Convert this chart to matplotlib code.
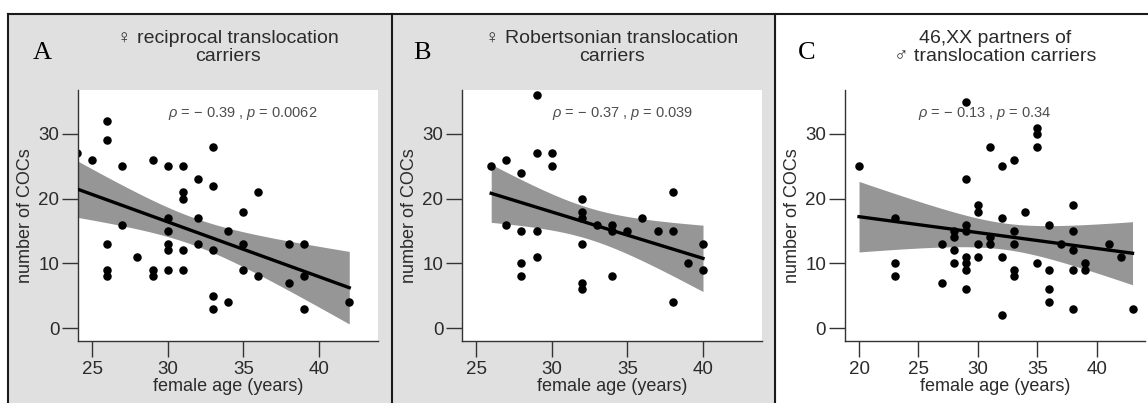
import numpy as np
import matplotlib
matplotlib.use("Agg")
import matplotlib.pyplot as plt
from matplotlib.patches import Rectangle
from matplotlib.lines import Line2D

plt.rcParams['font.family'] = ['Liberation Sans', 'DejaVu Sans']
plt.rcParams['mathtext.fontset'] = 'custom'
plt.rcParams['mathtext.rm'] = 'Liberation Sans'
plt.rcParams['mathtext.it'] = 'Liberation Sans:italic'

# panel A: female reciprocal translocation carriers
age_a = [24, 25, 26, 26, 26, 26, 26, 27, 27, 28, 29, 29, 29,
         30, 30, 30, 30, 30, 30, 31, 31, 31, 31, 31, 32, 32, 32,
         33, 33, 33, 33, 33, 34, 34, 35, 35, 35, 36, 36, 38, 38,
         39, 39, 39, 42]
coc_a = [27, 26, 32, 29, 13, 9, 8, 25, 16, 11, 26, 9, 8,
         25, 17, 15, 13, 12, 9, 25, 21, 20, 12, 9, 23, 17, 13,
         28, 22, 12, 5, 3, 15, 4, 18, 13, 9, 21, 8, 13, 7,
         13, 8, 3, 4]

# panel B: female Robertsonian translocation carriers
age_b = [26, 27, 27, 28, 28, 28, 28, 29, 29, 29, 29, 30, 30,
         32, 32, 32, 32, 32, 32, 33, 34, 34, 34, 35, 36, 37,
         38, 38, 38, 39, 40, 40]
coc_b = [25, 26, 16, 24, 15, 10, 8, 36, 27, 15, 11, 27, 25,
         20, 18, 17, 13, 7, 6, 16, 16, 15, 8, 15, 17, 15,
         21, 15, 4, 10, 13, 9]

# panel C: 46,XX partners of male translocation carriers
age_c = [20, 23, 23, 23, 27, 27, 28, 28, 28, 28,
         29, 29, 29, 29, 29, 29, 29, 29, 30, 30, 30, 30,
         31, 31, 31, 32, 32, 32, 32, 33, 33, 33, 33, 33, 34,
         35, 35, 35, 35, 36, 36, 36, 36, 37, 38, 38, 38, 38, 38,
         39, 39, 41, 42, 43]
coc_c = [25, 17, 10, 8, 13, 7, 15, 14, 12, 10,
         35, 23, 16, 15, 11, 10, 9, 6, 19, 18, 13, 11,
         28, 14, 13, 25, 17, 11, 2, 26, 15, 13, 9, 8, 18,
         31, 30, 28, 10, 16, 9, 6, 4, 13, 19, 15, 12, 9, 3,
         10, 9, 13, 11, 3]

titles = ['\u2640 reciprocal translocation\ncarriers',
          '\u2640 Robertsonian translocation\ncarriers',
          '46,XX partners of\n\u2642 translocation carriers']
stats = ['$\\rho$ = \u2212 0.39 , $p$ = 0.0062',
         '$\\rho$ = \u2212 0.37 , $p$ = 0.039',
         '$\\rho$ = \u2212 0.13 , $p$ = 0.34']
stat_x = [30, 30, 25]
letters = ['A', 'B', 'C']
# t quantiles (0.975) for df = n - 2
t975 = {43: 2.017, 30: 2.042, 52: 2.007}

W, H = 1148, 403
fig = plt.figure(figsize=(W / 100, H / 100), dpi=100)

# panel backgrounds and frame
fig.add_artist(Rectangle((8 / W, 0), (392 - 8) / W, 1 - 14 / H,
                         transform=fig.transFigure, color='#e0e0e0', zorder=-5))
fig.add_artist(Rectangle((392 / W, 0), (775 - 392) / W, 1 - 14 / H,
                         transform=fig.transFigure, color='#e0e0e0', zorder=-5))
for xs, ys in [([8, W], [14, 14]), ([8, 8], [14, H]),
               ([392, 392], [14, H]), ([775, 775], [14, H])]:
    fig.add_artist(Line2D([x / W for x in xs], [1 - y / H for y in ys],
                          transform=fig.transFigure, color='#1a1a1a', lw=1.5))

lefts = [78, 462, 845]
data = [(age_a, coc_a), (age_b, coc_b), (age_c, coc_c)]
xlims = [(24.07, 43.9), (24.07, 43.9), (18.82, 44.05)]
xticks = [[25, 30, 35, 40], [25, 30, 35, 40], [20, 25, 30, 35, 40]]
letter_x = [33, 413, 798]

for i in range(3):
    ax = fig.add_axes([lefts[i] / W, (H - 341) / H, 300 / W, 251 / H])
    ax.set_facecolor('white')
    x = np.array(data[i][0], dtype=float)
    y = np.array(data[i][1], dtype=float)

    # linear fit with 95% confidence band
    n = len(x)
    slope, icpt = np.polyfit(x, y, 1)
    xs = np.linspace(x.min(), x.max(), 100)
    resid = y - (slope * x + icpt)
    s = np.sqrt(np.sum(resid ** 2) / (n - 2))
    se = s * np.sqrt(1 / n + (xs - x.mean()) ** 2 / np.sum((x - x.mean()) ** 2))
    fit = slope * xs + icpt
    ax.fill_between(xs, fit - t975[n - 2] * se, fit + t975[n - 2] * se,
                    color='#969696', lw=0, zorder=1)
    ax.scatter(x, y, s=26, color='black', zorder=2, clip_on=True)
    ax.plot(xs, fit, color='black', lw=2.4, zorder=3)

    ax.set_xlim(*xlims[i])
    ax.set_ylim(-2.0, 36.8)
    ax.set_xticks(xticks[i])
    ax.set_yticks([0, 10, 20, 30])
    for sp in ['top', 'right']:
        ax.spines[sp].set_visible(False)
    for sp in ['left', 'bottom']:
        ax.spines[sp].set_color('#333333')
        ax.spines[sp].set_linewidth(1.0)
    ax.tick_params(direction='out', length=11.5, width=1.0, color='#333333',
                   labelcolor='#2b2b2b', labelsize=13.5)
    ax.tick_params(axis='y', pad=2)
    ax.tick_params(axis='x', pad=3)
    ax.set_xlabel('female age (years)', fontsize=13, color='#2b2b2b', labelpad=0)
    ax.set_ylabel('number of COCs', fontsize=13, color='#2b2b2b', labelpad=3)

    ax.text(0.5, 1.10, titles[i], transform=ax.transAxes, ha='center',
            va='bottom', fontsize=14, color='#2b2b2b', linespacing=1.05)
    ax.text(stat_x[i], 33.2, stats[i], ha='left', va='center',
            fontsize=10.5, color='#4d4d4d')

    fig.text(letter_x[i] / W, 1 - 59 / H, letters[i], family='Liberation Serif',
             fontsize=19, color='black', va='baseline', ha='left')

fig.savefig('out.png', dpi=100)
